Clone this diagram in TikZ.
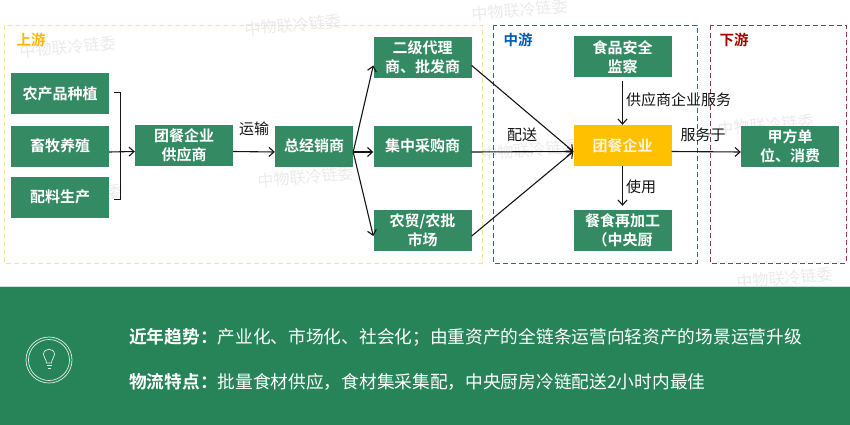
\documentclass[tikz,border=0pt]{standalone}
\usepackage{fontspec}
\setmainfont{Noto Sans CJK SC}
\newfontfamily\cjkbold{Noto Sans CJK SC Bold}
\usetikzlibrary{arrows.meta}
\definecolor{boxgreen}{HTML}{338A63}
\definecolor{band}{HTML}{268458}
\definecolor{gold}{HTML}{FFC000}
\definecolor{ink}{HTML}{141414}
\definecolor{zoneY}{HTML}{F3E3A0}
\definecolor{zoneB}{HTML}{3F6478}
\definecolor{zoneR}{HTML}{8A3A48}
\tikzset{
  x=1pt,y=-1pt,
  gbox/.style={fill=boxgreen,text=white,minimum width=98pt,minimum height=41pt,inner sep=0pt,align=center,font=\cjkbold\fontsize{15}{19}\selectfont},
  ybox/.style={gbox,fill=gold,text=white!85!gold},
  link/.style={draw=ink,line width=1.1pt,-{Straight Barb[length=5pt,width=9pt]}},
  plain/.style={draw=ink,line width=0.8pt},
  zone/.style={line width=0.9pt,dash pattern=on 5pt off 3pt},
  lbl/.style={text=ink,inner sep=0pt,font=\fontsize{15}{16}\selectfont},
  ztitle/.style={inner sep=0pt,font=\cjkbold\fontsize{14.5}{16}\selectfont},
  wm/.style={text=black!8,inner sep=0pt,rotate=5,font=\fontsize{16}{17}\selectfont},
  band text/.style={text=white,inner sep=0pt,anchor=west,font=\fontsize{17.7}{20}\selectfont},
}
\begin{document}
\begin{tikzpicture}
\useasboundingbox (0,0) rectangle (850,425);
\fill[white] (0,0) rectangle (850,425);
% watermarks
\node[wm] (w1) at (68,47) {中物联冷链委};
\node[wm] (w2) at (293,25) {中物联冷链委};
\node[wm] (w3) at (306,177) {中物联冷链委};
\node[wm] (w4) at (75,195) {中物联冷链委};
\node[wm] (w5) at (520,10) {中物联冷链委};
\node[wm] (w6) at (530,150) {中物联冷链委};
\node[wm] (w7) at (766,125) {中物联冷链委};
\node[wm] (w8) at (785,278) {中物联冷链委};
% zones
\draw[zone,draw=zoneY] (4,25) rectangle (482,263);
\draw[zone,draw=zoneB] (493,25) rectangle (697,263);
\draw[zone,draw=zoneR] (710,25) rectangle (846,263);
\node[ztitle,text=gold!85!orange] (t1) at (31,40) {上游};
\node[ztitle,text=blue!50!cyan!70!black] (t2) at (518,40) {中游};
\node[ztitle,text=red!65!black] (t3) at (734,40) {下游};
% nodes
\node[gbox] (n1) at (60,93.5) {农产品种植};
\node[gbox] (n2) at (60,146) {畜牧养殖};
\node[gbox] (n3) at (60,197) {配料生产};
\node[gbox] (sup) at (184,145.5) {团餐企业\\供应商};
\node[gbox,minimum width=78pt] (dist) at (314,146) {总经销商};
\node[gbox] (l2) at (422.5,57.5) {二级代理\\商、批发商};
\node[gbox] (cen) at (422.5,146) {集中采购商};
\node[gbox] (mkt) at (422.5,230) {农贸/农批\\市场};
\node[gbox] (food) at (622.5,57) {食品安全\\监察};
\node[ybox] (corp) at (622.5,145.5) {团餐企业};
\node[gbox] (kit) at (622.5,230.5) {餐食再加工\\（中央厨};
\node[gbox] (cust) at (790,146) {甲方单\\位、消费};
% bracket
\coordinate (b1) at (114,92);
\coordinate (b2) at (120,92);
\coordinate (b3) at (120,199);
\coordinate (b4) at (114,199);
\draw[plain] (b1) -- (b2) -- (b3) -- (b4);
% connectors
\draw[link] ([yshift=-6pt]n2.east) -- ([yshift=-6pt]sup.west);
\draw[link] ([yshift=-6pt]sup.east) -- ([yshift=-6pt]dist.west);
\draw[link] ([yshift=-6pt]dist.east) -- ([yshift=-8pt]l2.west);
\draw[link] ([yshift=-6pt]dist.east) -- ([yshift=-6pt]cen.west);
\draw[link] ([yshift=-6pt]dist.east) -- ([yshift=-6pt]mkt.west);
\draw[link] ([yshift=-8pt]l2.east) -- ([yshift=-6pt]corp.west);
\draw[link] ([yshift=-6pt]cen.east) -- ([yshift=-6pt]corp.west);
\draw[link] ([yshift=-6pt]mkt.east) -- ([yshift=-6pt]corp.west);
\draw[link] ([yshift=-3pt]food.south) -- (corp.north);
\draw[link] (corp.south) -- ([yshift=4pt]kit.north);
\draw[link] ([yshift=-6pt]corp.east) -- ([yshift=-6pt]cust.west);
% labels
\node[lbl] (e1) at (254,129) {运输};
\node[lbl] (e2) at (522,135) {配送};
\node[lbl,anchor=west] (e3) at (626,100) {供应商企业服务};
\node[lbl] (e4) at (703,135) {服务于};
\node[lbl] (e5) at (641,187) {使用};
% band
\fill[band] (0,286) rectangle (850,425);
\draw[white!75!band,line width=0.5pt] (0,286) -- (850,286);
\node[band text] (s1) at (129,337) {{\cjkbold 近年趋势：}产业化、市场化、社会化；由重资产的全链条运营向轻资产的场景运营升级};
\node[band text] (s2) at (129,382) {{\cjkbold 物流特点：}批量食材供应，食材集采集配，中央厨房冷链配送2小时内最佳};
% icon
\draw[white!85!band,line width=0.7pt] (49,360) circle (23);
\draw[white!85!band,line width=0.7pt] (49,360) circle (20.5);
\draw[white!85!band,line width=0.7pt] (46.5,363) .. controls (46.5,359) and (43.5,358) .. (43.5,354.5) .. controls (43.5,347.5) and (54.5,347.5) .. (54.5,354.5) .. controls (54.5,358) and (51.5,359) .. (51.5,363) -- cycle;
\draw[white!85!band,line width=0.7pt] (46.5,365.5) -- (51.5,365.5) (47.5,368) -- (50.5,368);
\end{tikzpicture}
\end{document}
